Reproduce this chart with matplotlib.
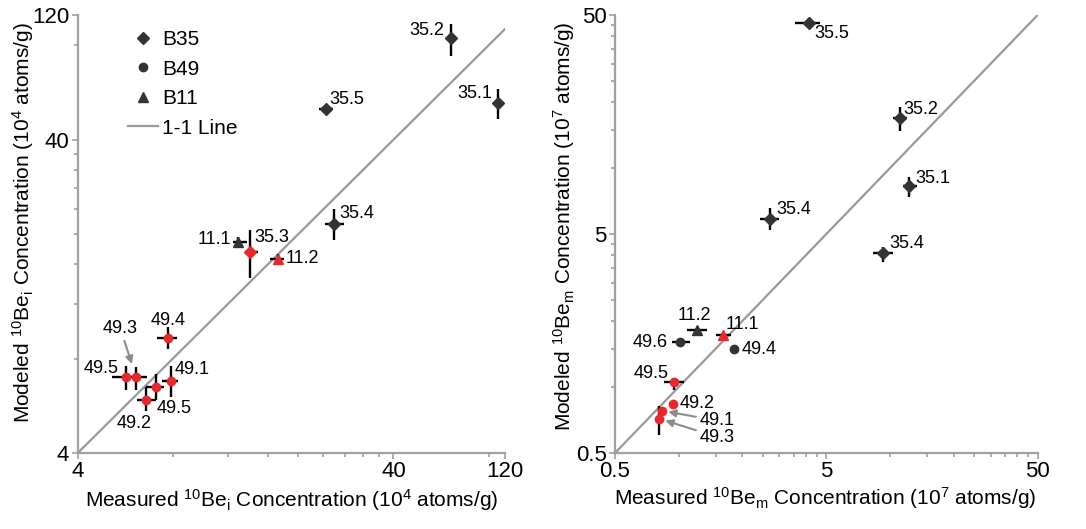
import matplotlib
matplotlib.use("Agg")
import matplotlib.pyplot as plt
from matplotlib.lines import Line2D
from matplotlib.ticker import FixedLocator, FixedFormatter, NullFormatter
import numpy as np

plt.rcParams['font.family'] = ['Liberation Sans', 'DejaVu Sans']
plt.rcParams['mathtext.fontset'] = 'custom'
plt.rcParams['mathtext.rm'] = 'Liberation Sans'
plt.rcParams['mathtext.it'] = 'Liberation Sans:italic'
plt.rcParams['mathtext.bf'] = 'Liberation Sans:bold'

# ---------------- data: left panel (10Be_i, 10^4 atoms/g) ----------------
L_labels = ['35.2', '35.1', '35.5', '35.4', '11.1', '35.3', '11.2',
            '49.4', '49.5', '49.3', '49.1', '49.5', '49.2']
L_group = ['B35', 'B35', 'B35', 'B35', 'B11', 'B35', 'B11',
           'B49', 'B49', 'B49', 'B49', 'B49', 'B49']
L_red = [0, 0, 0, 0, 0, 1, 1, 1, 1, 1, 1, 1, 1]
L_x = [60.7, 85.5, 24.4, 26.0, 12.9, 14.1, 17.2, 7.74, 5.69, 6.13, 7.88, 7.06, 6.58]
L_x_lo = [58.9, 83.0, 23.2, 24.3, 12.4, 13.5, 16.3, 7.11, 5.13, 5.69, 7.41, 6.57, 6.15]
L_x_hi = [62.5, 88.0, 25.7, 27.9, 13.7, 14.9, 18.0, 8.24, 6.30, 6.62, 8.33, 7.50, 7.07]
L_y = [84.3, 52.5, 50.2, 21.5, 18.9, 17.5, 16.6, 9.33, 6.98, 6.98, 6.80, 6.51, 5.90]
L_y_lo = [74.0, 46.6, 48.7, 19.1, 18.1, 14.5, 16.0, 8.57, 6.36, 6.36, 6.05, 5.90, 5.44]
L_y_hi = [93.6, 57.9, 51.7, 24.0, 19.6, 20.6, 17.3, 10.12, 7.58, 7.55, 7.58, 7.13, 6.51]
L_ticks = [4, 40, 90]
L_yticks = [4, 40, 100]
L_ticklabels = ['4', '40', '120']
L_minor = [8, 12, 16, 20, 24, 28, 32, 36, 80]

# ---------------- data: right panel (10Be_m, 10^7 atoms/g) ----------------
R_labels = ['35.5', '35.2', '35.1', '35.4', '35.4', '11.2', '11.1',
            '49.6', '49.4', '49.5', '49.2', '49.1', '49.3']
R_group = ['B35', 'B35', 'B35', 'B35', 'B35', 'B11', 'B11',
           'B49', 'B49', 'B49', 'B49', 'B49', 'B49']
R_red = [0, 0, 0, 0, 0, 0, 1, 0, 0, 1, 1, 1, 1]
R_x = [4.12, 11.16, 12.3, 2.71, 9.3, 1.217, 1.63, 1.015, 1.82, 0.951, 0.937, 0.834, 0.81]
R_x_lo = [3.55, 10.37, 11.5, 2.44, 8.35, 1.09, 1.51, 0.927, 1.82, 0.856, 0.937, 0.834, 0.81]
R_x_hi = [4.67, 12.0, 13.4, 2.97, 10.3, 1.36, 1.76, 1.13, 1.82, 1.06, 0.937, 0.834, 0.81]
R_y = [46.1, 16.9, 8.24, 5.88, 4.09, 1.83, 1.73, 1.60, 1.49, 1.05, 0.84, 0.78, 0.717]
R_y_lo = [43.5, 14.7, 7.36, 5.19, 3.71, 1.79, 1.70, 1.60, 1.49, 0.97, 0.84, 0.78, 0.606]
R_y_hi = [48.3, 19.1, 9.15, 6.56, 4.38, 1.87, 1.76, 1.60, 1.49, 1.10, 0.84, 0.78, 0.822]
R_ticks = [0.5, 5, 50]
R_ticklabels = ['0.5', '5', '50']
R_minor = [1, 1.5, 2, 2.5, 3, 3.5, 4, 4.5, 10, 15, 20, 25, 30, 35, 40, 45]

legend_labels = ['B35', 'B49', 'B11', '1-1 Line']

# ---------------- style ----------------
RED = '#e8282b'
DARK = '#333333'
GRAY = '#a0a0a0'
LINEGRAY = '#999999'
MARKERS = {'B35': 'D', 'B49': 'o', 'B11': '^'}
MSIZE = {'B35': 6.3, 'B49': 6.0, 'B11': 7.0}
PT_FS = 13
TICK_FS = 16
LAB_FS = 15

# label offsets in pixels (dx, dy up, ha, arrow_shrink or None)
L_off = [(-6, 8, 'right', None), (-5, 9, 'right', None), (4, 9, 'left', None),
         (5, 11, 'left', None), (-7, 2, 'right', None), (4, 15, 'left', None),
         (8, 1, 'left', None), (0, 17, 'center', None), (-7, 9, 'right', None),
         (-16, 49, 'center', 10), (4, 11, 'left', None), (1, -22, 'left', None),
         (-11.5, -23, 'center', None)]
R_off = [(6, -11, 'left', None), (3, 9, 'left', None), (6, 8, 'left', None),
         (6, 9, 'left', None), (6, 10, 'left', None), (-2, 14, 'center', None),
         (2, 10, 'left', None), (-12, 0, 'right', None), (8, 0, 'left', None),
         (-5, 9, 'right', None), (7, 0, 'left', None), (38, -10, 'left', 4.5),
         (40.7, -18.3, 'left', 4.5)]

fig = plt.figure(figsize=(10.86, 5.29), dpi=100)
axL = fig.add_axes([77.7 / 1086, 1 - 453 / 529, 427 / 1086, 438 / 529])
axR = fig.add_axes([615 / 1086, 1 - 453 / 529, 422.7 / 1086, 438 / 529])


def draw_panel(ax, labels, group, red, x, xlo, xhi, y, ylo, yhi, offs,
               xlim, ylim, xticks, yticks, ticklabels, minor):
    ax.set_xscale('log')
    ax.set_yscale('log')
    ax.set_xlim(*xlim)
    ax.set_ylim(*ylim)
    lo = min(xlim[0], ylim[0])
    hi = max(xlim[1], ylim[1])
    ax.plot([lo, hi], [lo, hi], color=LINEGRAY, lw=1.6, zorder=1)
    x = np.array(x); y = np.array(y)
    xerr = [x - np.array(xlo), np.array(xhi) - x]
    yerr = [y - np.array(ylo), np.array(yhi) - y]
    ax.errorbar(x, y, xerr=xerr, yerr=yerr, fmt='none', ecolor='black',
                elinewidth=1.7, capsize=0, zorder=2)
    for i in range(len(x)):
        c = RED if red[i] else DARK
        ax.plot(x[i], y[i], marker=MARKERS[group[i]], ms=MSIZE[group[i]],
                color=c, mec=c, ls='none', zorder=3)
        dx, dy, ha, shr = offs[i]
        kw = dict(textcoords='offset points', ha=ha, va='center',
                  fontsize=PT_FS, zorder=4)
        if shr is not None:
            kw['arrowprops'] = dict(arrowstyle='-|>', color='#8c8c8c', lw=1.5,
                                    shrinkA=1, shrinkB=shr, mutation_scale=11)
        ax.annotate(labels[i], (x[i], y[i]), xytext=(dx * 0.72, dy * 0.72), **kw)
    for s in ['top', 'right']:
        ax.spines[s].set_visible(False)
    for s in ['left', 'bottom']:
        ax.spines[s].set_color(GRAY)
        ax.spines[s].set_linewidth(1.6)
    ax.xaxis.set_major_locator(FixedLocator(xticks))
    ax.xaxis.set_major_formatter(FixedFormatter(ticklabels))
    ax.yaxis.set_major_locator(FixedLocator(yticks))
    ax.yaxis.set_major_formatter(FixedFormatter(ticklabels))
    ax.xaxis.set_minor_locator(FixedLocator(minor))
    ax.yaxis.set_minor_locator(FixedLocator(minor))
    ax.xaxis.set_minor_formatter(NullFormatter())
    ax.yaxis.set_minor_formatter(NullFormatter())
    ax.tick_params(which='major', direction='out', length=4, width=1.2,
                   color=GRAY, labelsize=TICK_FS, pad=2)
    ax.tick_params(which='minor', direction='out', length=3, width=1.2,
                   color=GRAY)
    ax.set_facecolor('none')


draw_panel(axL, L_labels, L_group, L_red, L_x, L_x_lo, L_x_hi, L_y, L_y_lo, L_y_hi,
           L_off, (4, 90), (4, 100), L_ticks, L_yticks, L_ticklabels, L_minor)
draw_panel(axR, R_labels, R_group, R_red, R_x, R_x_lo, R_x_hi, R_y, R_y_lo, R_y_hi,
           R_off, (0.5, 50), (0.5, 50), R_ticks, R_ticks, R_ticklabels, R_minor)

axL.set_xlabel(r'Measured $^{10}$Be$_{\mathrm{i}}$ Concentration (10$^{4}$ atoms/g)',
               fontsize=LAB_FS, va='center')
axL.set_ylabel(r'Modeled $^{10}$Be$_{\mathrm{i}}$ Concentration (10$^{4}$ atoms/g)',
               fontsize=LAB_FS, va='center')
axR.set_xlabel(r'Measured $^{10}$Be$_{\mathrm{m}}$ Concentration (10$^{7}$ atoms/g)',
               fontsize=LAB_FS, va='center')
axR.set_ylabel(r'Modeled $^{10}$Be$_{\mathrm{m}}$ Concentration (10$^{7}$ atoms/g)',
               fontsize=LAB_FS, va='center')
axL.xaxis.set_label_coords(0.502, -0.107)
axL.yaxis.set_label_coords(-0.128, 0.525)
axR.xaxis.set_label_coords(0.498, -0.103)
axR.yaxis.set_label_coords(-0.12, 0.518)

handles = [Line2D([], [], marker='D', ms=6.3, color=DARK, ls='none'),
           Line2D([], [], marker='o', ms=6.0, color=DARK, ls='none'),
           Line2D([], [], marker='^', ms=7.0, color=DARK, ls='none'),
           Line2D([], [], color=LINEGRAY, lw=1.6)]
axL.legend(handles, legend_labels, loc='upper left', bbox_to_anchor=(0.118, 0.965),
           frameon=False, fontsize=15, handlelength=1.45, handletextpad=0.2,
           labelspacing=0.5, borderpad=0, borderaxespad=0)

fig.savefig('out.png', dpi=100)
